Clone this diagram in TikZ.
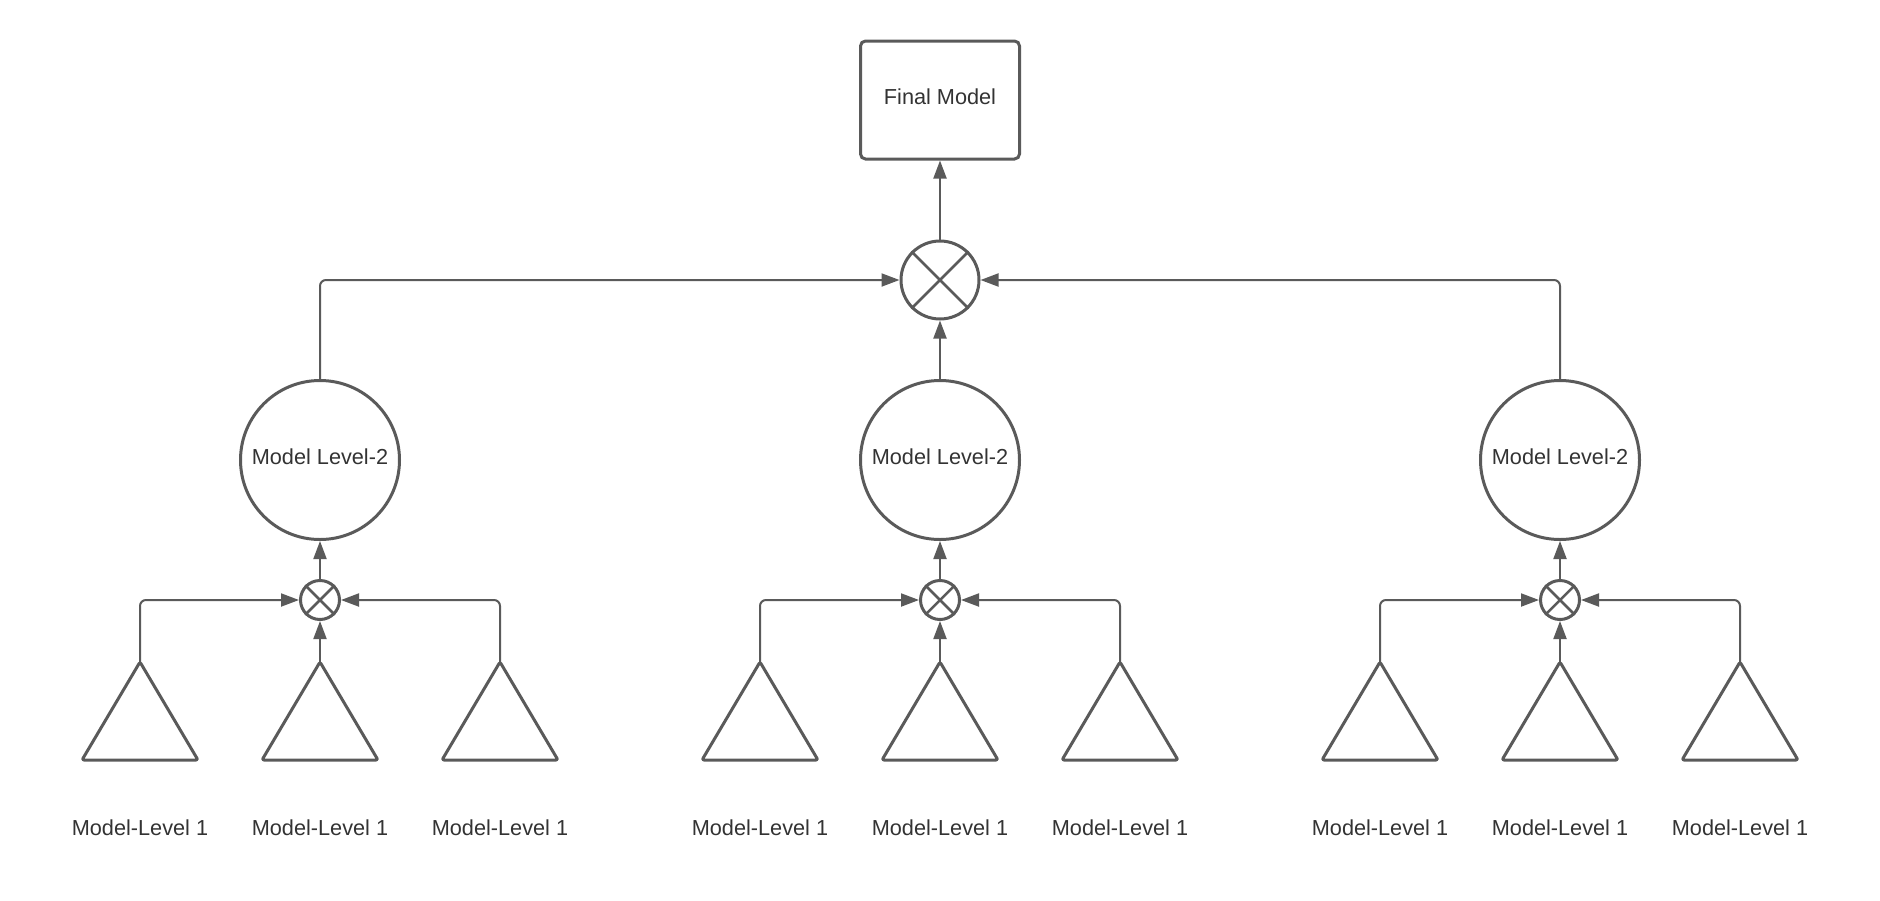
\documentclass[tikz,border=0pt]{standalone}
\usepackage{fontspec}
\setmainfont{Liberation Sans}
\usetikzlibrary{arrows.meta}
\definecolor{linegray}{HTML}{5A5A5A}
\definecolor{textgray}{HTML}{333333}
\begin{document}
\begin{tikzpicture}[x=1pt,y=-1pt,
  every node/.style={font=\fontsize{21.7}{26}\selectfont, text=textgray},
  shapeline/.style={draw=linegray, line width=3pt},
  finalbox/.style={shapeline, rectangle, rounded corners=5pt, minimum width=159pt, minimum height=118pt, inner sep=0pt, text depth=7pt},
  levelcirc/.style={shapeline, circle, minimum size=159pt, inner sep=0pt, text depth=7pt},
  mixer/.style={shapeline, circle, inner sep=0pt},
  conn/.style={draw=linegray, line width=2pt, rounded corners=6pt, -{Triangle[length=18pt,width=13pt]}},
  leaf/.style={shapeline, rounded corners=2pt, line join=round},
  leaflabel/.style={anchor=center}
]
\path[use as bounding box] (0,0) rectangle (1880,900);

% top of the hierarchy
\node[finalbox] (final) at (940,100) {Final Model};
\node[mixer, minimum size=78pt] (top) at (940,280) {};
\draw[linegray, line width=2.5pt] (top.north west) -- (top.south east)
  (top.north east) -- (top.south west);
\draw[conn] (top.north) -- (final.south);

% three level-2 groups, each fed by three level-1 models
\foreach \g/\gx in {a/320, b/940, c/1560} {
  \node[levelcirc] (L2\g) at (\gx,460) {Model Level-2};
  \node[mixer, minimum size=39pt] (mx\g) at (\gx,600) {};
  \draw[linegray, line width=2.5pt] (mx\g.north west) -- (mx\g.south east)
    (mx\g.north east) -- (mx\g.south west);
  \draw[conn] (mx\g.north) -- (L2\g.south);
  \foreach \k/\dx in {1/-180, 2/0, 3/180} {
    \coordinate (t\g\k) at (\gx+\dx,662);
    \draw[leaf] (t\g\k) -- ++(58,98) -- ++(-116,0) -- cycle;
    \node[leaflabel] (lab\g\k) at (\gx+\dx,828) {Model-Level 1};
  }
  \draw[conn] (t\g1) |- (mx\g.west);
  \draw[conn] (t\g2) -- (mx\g.south);
  \draw[conn] (t\g3) |- (mx\g.east);
}

% level-2 outputs into the top mixer
\draw[conn] (L2a.north) |- (top.west);
\draw[conn] (L2b.north) -- (top.south);
\draw[conn] (L2c.north) |- (top.east);
\end{tikzpicture}
\end{document}
